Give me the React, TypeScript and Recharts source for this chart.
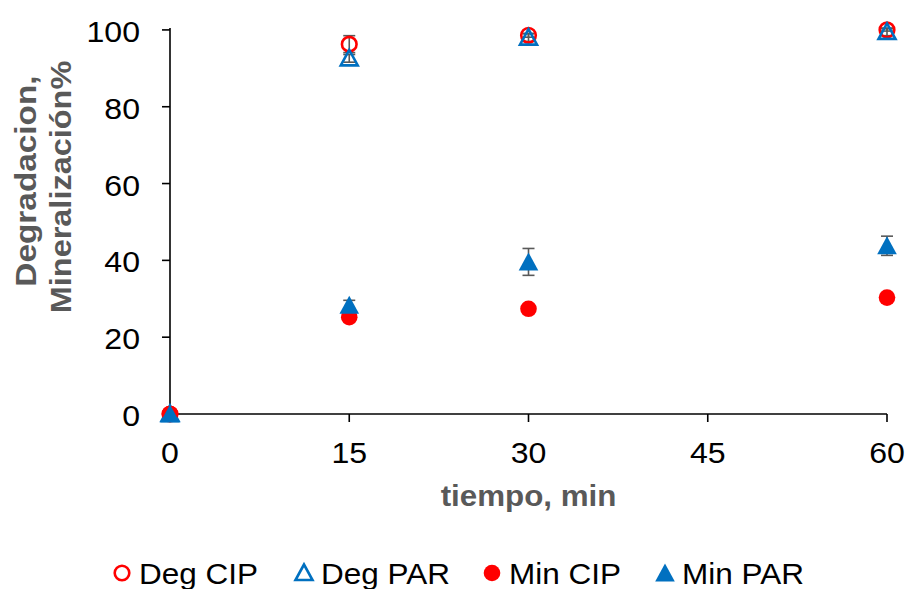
import React from 'react';
import { ScatterChart, Scatter, XAxis, YAxis, ErrorBar, Legend } from 'recharts';

// ---- data ----
const times = [0, 15, 30, 60];
const degCIP = [0, 96.3, 98.6, 100];
const degCIPErr = [0, 2.2, 0.5, 0.3];
const degPAR = [0, 92.6, 98.0, 99.5];
const degPARErr = [0, 1.0, 1.0, 1.0];
const minCIP = [0, 25.2, 27.4, 30.3];
const minCIPErr = [0, 0, 0, 0];
const minPAR = [0, 28.3, 39.6, 43.8];
const minPARErr = [0, 1.3, 3.5, 2.5];
const seriesNames = ['Deg CIP', 'Deg PAR', 'Min CIP', 'Min PAR'];
const xTicks = [0, 15, 30, 45, 60];
const yTicks = [0, 20, 40, 60, 80, 100];
const xTitle = 'tiempo, min';
const yTitle1 = 'Degradacion,';
const yTitle2 = 'Mineralización%';

const build = (vals: number[], errs: number[]) =>
  times.map((t, i) => ({ x: t, y: vals[i], err: errs[i] }));

const RED = '#FF0000';
const BLUE = '#0070C0';
const FONT = "'Liberation Sans', Arial, sans-serif";

function SText(props: any) {
  const { x, y, sx = 1.07, rotate = 0, anchor = 'middle', size = 30, bold = false, fill = '#000', children } = props;
  const t = `translate(${x},${y})${rotate ? ` rotate(${rotate})` : ''} scale(${sx},1)`;
  return (
    <text transform={t} textAnchor={anchor} fontSize={size} fontWeight={bold ? 700 : 400} fill={fill} fontFamily={FONT}>
      {children}
    </text>
  );
}

const OpenCircle = (p: any) => (
  <circle cx={p.cx} cy={p.cy} r={7.3} fill="none" stroke={RED} strokeWidth={2.6} />
);
const FilledCircle = (p: any) => <circle cx={p.cx} cy={p.cy} r={8.3} fill={RED} />;
const OpenTriangle = (p: any) => (
  <polygon
    points={`${p.cx},${p.cy - 8.5} ${p.cx - 8.5},${p.cy + 7} ${p.cx + 8.5},${p.cy + 7}`}
    fill="none"
    stroke={BLUE}
    strokeWidth={2.6}
    strokeLinejoin="miter"
  />
);
const FilledTriangle = (p: any) => (
  <polygon
    points={`${p.cx},${p.cy - 9.5} ${p.cx - 9.8},${p.cy + 8.5} ${p.cx + 9.8},${p.cy + 8.5}`}
    fill={BLUE}
  />
);
const shapes = [OpenCircle, OpenTriangle, FilledCircle, FilledTriangle];

const XTick = (p: any) => (
  <SText x={p.x} y={p.y + 41} anchor="middle">
    {p.payload.value}
  </SText>
);
const YTick = (p: any) => (
  <SText x={p.x} y={p.y + 12} anchor="end">
    {p.payload.value}
  </SText>
);

const XLabel = (p: any) => {
  const vb = p.viewBox;
  return (
    <SText x={vb.x + vb.width / 2} y={vb.y + 92} bold size={29} fill="#595959" sx={1.08}>
      {xTitle}
    </SText>
  );
};
const YLabel = (p: any) => {
  const vb = p.viewBox;
  const cy = vb.y + vb.height / 2;
  return (
    <g>
      <SText x={36} y={cy - 40} rotate={-90} bold size={29} fill="#595959" sx={1.15}>
        {yTitle1}
      </SText>
      <SText x={71} y={cy - 34} rotate={-90} bold size={29} fill="#595959" sx={1.12}>
        {yTitle2}
      </SText>
    </g>
  );
};

const LegendContent = () => {
  const iconX = [122, 304, 492, 665];
  return (
    <svg width={908} height={40} style={{ overflow: 'visible', display: 'block' }}>
      {seriesNames.map((n, i) => {
        const Shape = shapes[i];
        return (
          <g key={n}>
            <Shape cx={iconX[i]} cy={24} />
            <SText x={iconX[i] + 17} y={34.5} anchor="start" sx={1.05}>
              {n}
            </SText>
          </g>
        );
      })}
    </svg>
  );
};

export default function App() {
  const series = [
    build(degCIP, degCIPErr),
    build(degPAR, degPARErr),
    build(minCIP, minCIPErr),
    build(minPAR, minPARErr),
  ];
  const colors = [RED, BLUE, RED, BLUE];
  return (
    <div style={{ position: 'absolute', left: 0, top: 0, width: 908, height: 589, background: '#fff' }}>
      <ScatterChart width={908} height={589} margin={{ top: 28, right: 21, bottom: 0, left: 0 }}>
        <XAxis
          type="number"
          dataKey="x"
          domain={[0, 60]}
          ticks={xTicks}
          tick={<XTick />}
          tickSize={8}
          tickMargin={0}
          height={135}
          axisLine={{ stroke: '#000', strokeWidth: 1.6 }}
          tickLine={{ stroke: '#000', strokeWidth: 1.6 }}
          label={<XLabel />}
          interval={0}
        />
        <YAxis
          type="number"
          dataKey="y"
          domain={[0, 100]}
          ticks={yTicks}
          tick={<YTick />}
          tickSize={8}
          tickMargin={22}
          width={170}
          axisLine={{ stroke: '#000', strokeWidth: 1.6 }}
          tickLine={{ stroke: '#000', strokeWidth: 1.6 }}
          label={<YLabel />}
          interval={0}
        />
        <Legend verticalAlign="bottom" height={40} wrapperStyle={{ left: 0, bottom: 0, width: 908, height: 40 }} content={<LegendContent />} />
        {series.map((d, i) => (
          <Scatter
            key={seriesNames[i]}
            name={seriesNames[i]}
            data={d}
            fill={colors[i]}
            shape={shapes[i]}
            isAnimationActive={false}
          >
            <ErrorBar dataKey="err" direction="y" width={6} stroke="#595959" strokeWidth={1.6} />
          </Scatter>
        ))}
      </ScatterChart>
    </div>
  );
}
